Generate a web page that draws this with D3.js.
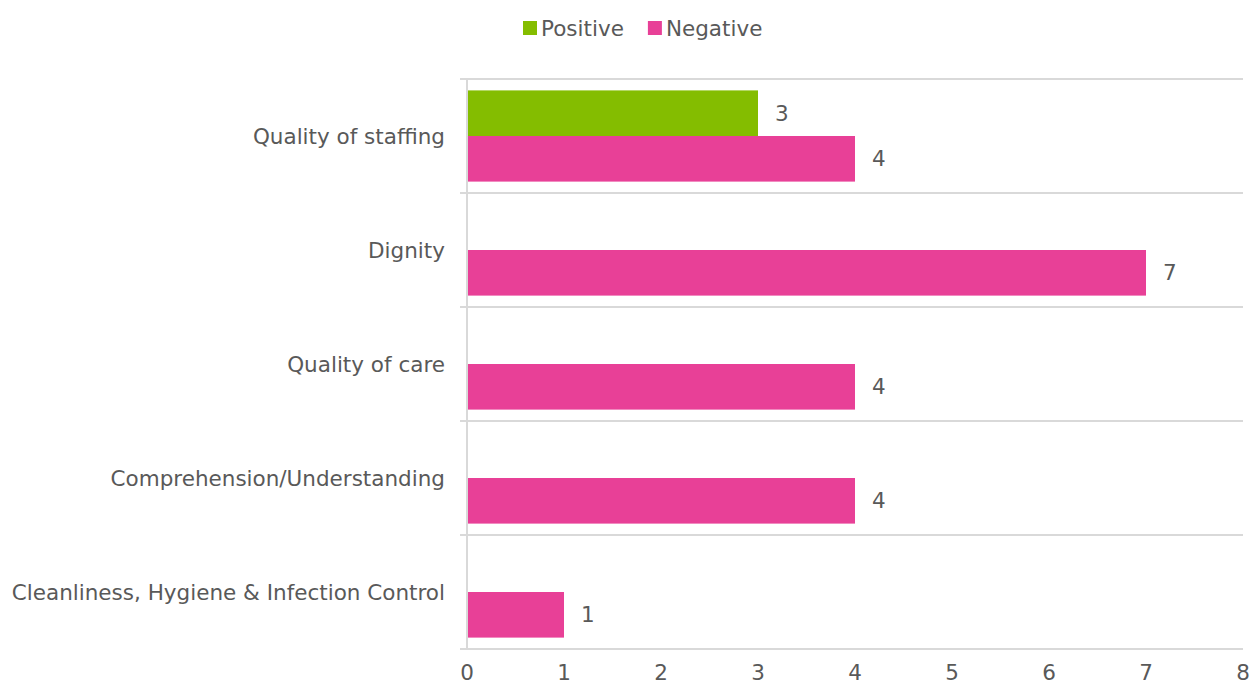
<!DOCTYPE html>
<html>
<head>
<meta charset="utf-8">
<script src="https://cdn.jsdelivr.net/npm/d3@7"></script>
<style>
  html, body { margin: 0; padding: 0; background: #fff; }
  svg { display: block; font-family: "DejaVu Sans", "Open Sans", sans-serif; }
</style>
</head>
<body>
<svg id="chart" width="1250" height="686"></svg>
<script>
// Feedback themes, counted by sentiment
const categories = [
  "Quality of staffing",
  "Dignity",
  "Quality of care",
  "Comprehension/Understanding",
  "Cleanliness, Hygiene & Infection Control"
];
const positive = [3, 0, 0, 0, 0];
const negative = [4, 7, 4, 4, 1];
const seriesNames = ["Positive", "Negative"];
const seriesColors = ["#84bd00", "#e84097"];
const xTicks = [0, 1, 2, 3, 4, 5, 6, 7, 8];

const rows = categories.map((c, i) => ({ category: c, values: [positive[i], negative[i]] }));

const svg = d3.select("#chart");
const margin = { top: 79, right: 7, bottom: 37, left: 467 };
const W = 1250, H = 686;
const innerW = W - margin.left - margin.right;
const innerH = H - margin.top - margin.bottom;
const textColor = "#595959";
const gridColor = "#d9d9d9";
const fontSize = 21.5;

const g = svg.append("g").attr("transform", `translate(${margin.left},${margin.top})`);

const x = d3.scaleLinear().domain([0, 8]).range([0, innerW]);
const y = d3.scaleBand().domain(categories).range([0, innerH]).paddingInner(0).paddingOuter(0);
const sub = d3.scaleBand().domain(seriesNames).range([0, y.bandwidth()]).paddingOuter(0.25).paddingInner(0);

// horizontal separators between categories
const boundaries = categories.map(c => y(c)).concat([innerH]);
g.selectAll("line.sep").data(boundaries).join("line")
  .attr("class", "sep")
  .attr("x1", -7).attr("x2", innerW)
  .attr("y1", d => d).attr("y2", d => d)
  .attr("stroke", gridColor).attr("stroke-width", 2);

// vertical axis line
g.append("line")
  .attr("x1", 0).attr("x2", 0).attr("y1", 0).attr("y2", innerH)
  .attr("stroke", gridColor).attr("stroke-width", 2);

// bars
const groups = g.selectAll("g.cat").data(rows).join("g")
  .attr("class", "cat")
  .attr("transform", d => `translate(0,${y(d.category)})`);

const barData = d => d.values.map((v, j) => ({ v, s: seriesNames[j], color: seriesColors[j] })).filter(b => b.v > 0);

groups.selectAll("rect").data(barData).join("rect")
  .attr("x", x(0) + 1)
  .attr("y", b => sub(b.s))
  .attr("width", b => x(b.v) - x(0) - 1)
  .attr("height", sub.bandwidth())
  .attr("fill", b => b.color);

groups.selectAll("text.val").data(barData).join("text")
  .attr("class", "val")
  .attr("x", b => x(b.v) + 17)
  .attr("y", b => sub(b.s) + sub.bandwidth() / 2)
  .attr("dy", "0.35em")
  .attr("fill", textColor)
  .attr("font-size", fontSize)
  .text(b => b.v);

// category labels
g.selectAll("text.cat").data(categories).join("text")
  .attr("class", "cat")
  .attr("x", -22)
  .attr("y", c => y(c) + y.bandwidth() / 2)
  .attr("dy", "0.35em")
  .attr("text-anchor", "end")
  .attr("fill", textColor)
  .attr("font-size", fontSize)
  .text(c => c);

// x axis tick labels
g.selectAll("text.xt").data(xTicks).join("text")
  .attr("class", "xt")
  .attr("x", d => x(d))
  .attr("y", innerH + 23)
  .attr("dy", "0.35em")
  .attr("text-anchor", "middle")
  .attr("fill", textColor)
  .attr("font-size", fontSize)
  .text(d => d);

// legend
const legend = svg.append("g").attr("transform", "translate(523,28)");
let lx = 0;
seriesNames.forEach((name, i) => {
  const item = legend.append("g").attr("transform", `translate(${lx},0)`);
  item.append("rect").attr("x", 0).attr("y", -7).attr("width", 14).attr("height", 14).attr("fill", seriesColors[i]);
  const t = item.append("text").attr("x", 18).attr("y", 0).attr("dy", "0.35em")
    .attr("fill", textColor).attr("font-size", fontSize).text(name);
  lx += 18 + t.node().getComputedTextLength() + 24;
});
</script>
</body>
</html>
